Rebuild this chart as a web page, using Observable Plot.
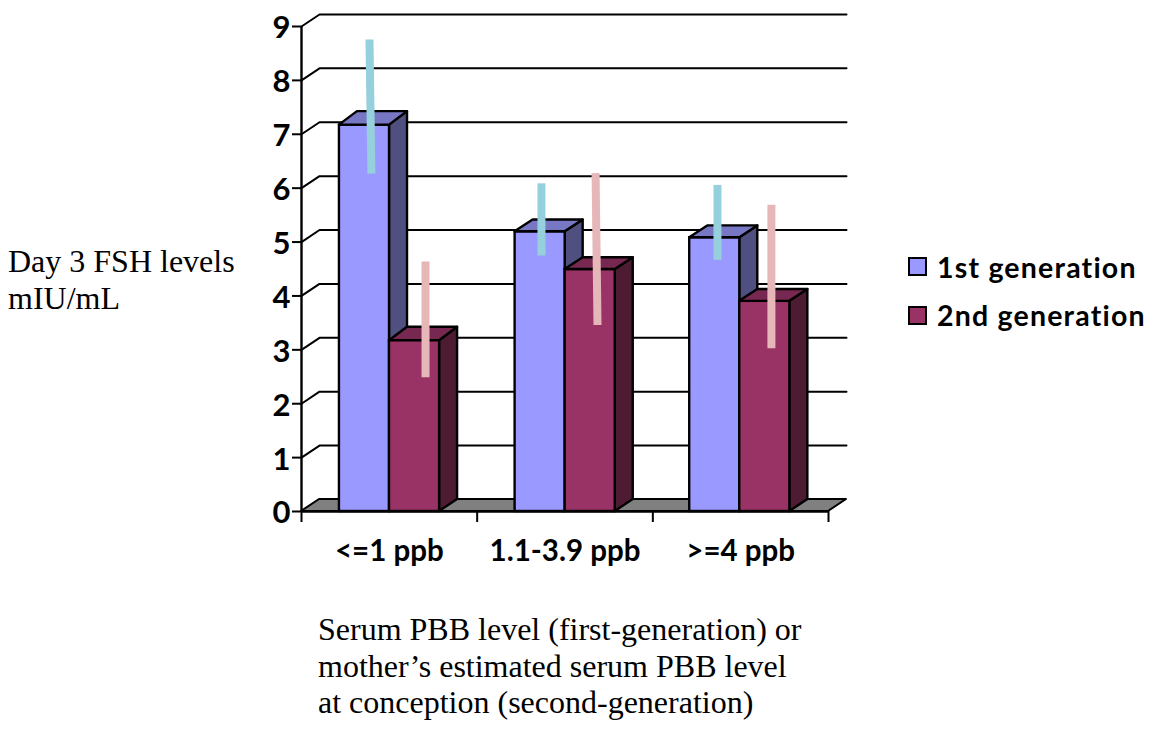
<!DOCTYPE html>
<html>
<head>
<meta charset="utf-8">
<script src="https://cdn.jsdelivr.net/npm/d3@7"></script>
<script src="https://cdn.jsdelivr.net/npm/@observablehq/plot@0.6"></script>
<style>
html,body{margin:0;padding:0;background:#fff}
#wrap{position:relative;width:1152px;height:729px;overflow:hidden}
#wrap svg{display:block;position:absolute;left:0;top:0}
.note{position:absolute;font-family:"Liberation Serif",serif;font-size:32px;line-height:36.7px;color:#000;white-space:nowrap}
.lg{position:absolute;font-family:Lato,sans-serif;font-weight:700;font-size:28.5px;line-height:30px;color:#000;white-space:nowrap;letter-spacing:1.2px}
.sw{position:absolute;width:15px;height:15px;border:2px solid #000}
</style>
</head>
<body>
<div id="wrap"></div>
<script>
const categories = ["<=1 ppb", "1.1-3.9 ppb", ">=4 ppb"];
const series = ["1st generation", "2nd generation"];
const firstGen = [7.17, 5.19, 5.08];
const secondGen = [3.17, 4.49, 3.9];
const firstErrHigh = [8.76, 6.09, 6.06];
const firstErrLow = [6.27, 4.75, 4.67];
const secondErrHigh = [4.64, 6.28, 5.69];
const secondErrLow = [2.49, 3.46, 3.03];
const firstErrX = [[0.387, 0.398], [0.366, 0.366], [0.368, 0.368]];
const secondErrX = [[0.706, 0.706], [0.674, 0.685], [0.675, 0.675]];
const yTicks = [0, 1, 2, 3, 4, 5, 6, 7, 8, 9];
const colors = {
  front: ["#9999ff", "#993366"],
  top: ["#7777c4", "#772850"],
  side: ["#4f4f80", "#4d1c33"],
  err: ["#96d0dc", "#e6b7b9"]
};

// Chart-space geometry of the pseudo-3D box
const depthX = 0.1025, depthY = 0.223;
const barDepthY = [0.25, 0.22, 0.22];
const barStart = [0.216, 0.216, 0.21];
const barW = 0.285;

const bars = [];
categories.forEach((c, i) => {
  [firstGen, secondGen].forEach((vals, s) => {
    const x1 = i + barStart[i] + s * barW;
    bars.push({id: i + "-" + s, s, x1, x2: x1 + barW, v: vals[i], d: barDepthY[i]});
  });
});
const sideFace = bars.flatMap(b => [
  {id: b.id, s: b.s, x: b.x2, y1: 0, y2: b.v},
  {id: b.id, s: b.s, x: b.x2 + depthX, y1: depthY, y2: b.v + b.d}
]);
const topFace = bars.flatMap(b => [
  {id: b.id, s: b.s, y: b.v, x1: b.x1, x2: b.x2},
  {id: b.id, s: b.s, y: b.v + b.d, x1: b.x1 + depthX, x2: b.x2 + depthX}
]);
const grid = yTicks.slice(1).flatMap(v => [
  {v, x: 0, y: v},
  {v, x: depthX, y: v + depthY},
  {v, x: categories.length + depthX, y: v + depthY}
]);
const floor = [
  {y: 0, x1: 0, x2: categories.length},
  {y: depthY, x1: depthX, x2: categories.length + depthX}
];
const errs = categories.flatMap((c, i) => [
  {id: "a" + i, s: 0, x: i + firstErrX[i][0], y: firstErrHigh[i]},
  {id: "a" + i, s: 0, x: i + firstErrX[i][1], y: firstErrLow[i]},
  {id: "b" + i, s: 1, x: i + secondErrX[i][0], y: secondErrHigh[i]},
  {id: "b" + i, s: 1, x: i + secondErrX[i][1], y: secondErrLow[i]}
]);

const faces = bars.flatMap(b => {
  const f = d => d.id === b.id;
  return [
    Plot.areaY(sideFace.filter(f), {x: "x", y1: "y1", y2: "y2", fill: colors.side[b.s], stroke: "#000", strokeWidth: 2.4, curve: "linear"}),
    Plot.rect([b], {x1: "x1", x2: "x2", y1: 0, y2: "v", fill: colors.front[b.s], stroke: "#000", strokeWidth: 2.4}),
    Plot.areaX(topFace.filter(f), {y: "y", x1: "x1", x2: "x2", fill: colors.top[b.s], stroke: "#000", strokeWidth: 2.4, curve: "linear"})
  ];
});

const chart = Plot.plot({
  width: 1152,
  height: 729,
  marginLeft: 301, marginRight: 324, marginTop: 26, marginBottom: 218,
  style: {background: "transparent", fontFamily: "Lato, sans-serif", color: "#000", overflow: "visible"},
  x: {type: "linear", domain: [0, categories.length]},
  y: {type: "linear", domain: [0, 9]},
  marks: [
    Plot.line(grid, {x: "x", y: "y", z: "v", stroke: "#000", strokeWidth: 2}),
    Plot.areaX(floor, {y: "y", x1: "x1", x2: "x2", fill: "#808080", stroke: "#000", strokeWidth: 2, curve: "linear"}),
    Plot.ruleX([0], {y1: 0, y2: 9, stroke: "#000", strokeWidth: 2.4}),
    Plot.ruleY([0], {x1: 0, x2: categories.length, stroke: "#000", strokeWidth: 2.4}),
    Plot.axisY({ticks: yTicks, tickSize: 9, stroke: "#000", strokeWidth: 2, text: null, label: null, anchor: "left"}),
    Plot.axisY({ticks: yTicks, tickFormat: d => d, tickSize: 9, tickPadding: 2, stroke: "none", fontSize: 31, fontWeight: 700, anchor: "left", label: null, dy: 2}),
    Plot.axisX({ticks: d3.range(categories.length + 1), tickFormat: () => "", tickSize: 11, strokeWidth: 2, anchor: "bottom", label: null}),
    Plot.axisX({ticks: categories.map((c, i) => i + 0.5), tickFormat: d => categories[Math.floor(d)], tickSize: 0, tickPadding: 29, fontSize: 29.5, fontWeight: 700, anchor: "bottom", label: null}),
    ...faces,
    Plot.line(errs, {x: "x", y: "y", z: "id", stroke: d => colors.err[d.s], strokeWidth: 8, strokeLinecap: "butt"})
  ]
});
const wrap = document.getElementById("wrap");
wrap.appendChild(chart);

function addText(cls, left, top, html) {
  const d = document.createElement("div");
  d.className = cls; d.style.left = left + "px"; d.style.top = top + "px"; d.innerHTML = html;
  wrap.appendChild(d);
}
addText("note", 8, 243, "Day 3 FSH levels<br>mIU/mL");
addText("note", 318, 611, "Serum PBB level (first-generation) or<br>mother’s estimated serum PBB level<br>at conception (second-generation)");
series.forEach((s, i) => {
  const sw = document.createElement("div");
  sw.className = "sw"; sw.style.left = "908px"; sw.style.top = (257 + i * 48.5) + "px"; sw.style.background = colors.front[i];
  wrap.appendChild(sw);
  addText("lg", 937, 252 + i * 48, s);
});
</script>
</body>
</html>
